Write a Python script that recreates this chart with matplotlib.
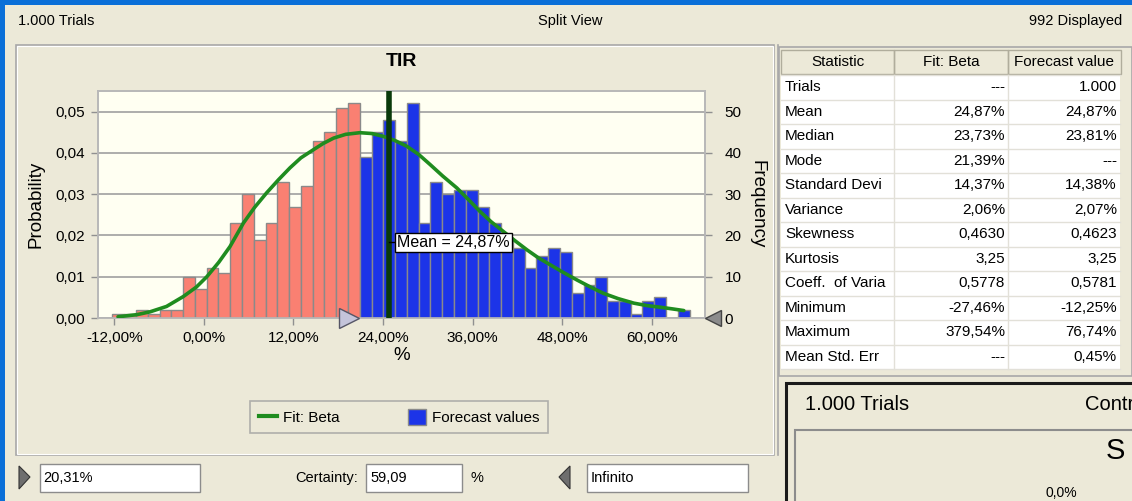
import matplotlib
matplotlib.use('Agg')
import matplotlib.pyplot as plt
import matplotlib.transforms as mtransforms
from matplotlib.patches import Rectangle, Patch, Polygon
from matplotlib.lines import Line2D
from matplotlib.ticker import FuncFormatter
import numpy as np

# ---- data ----
bin_start = -12.25      # %
bin_width = 1.578       # %
counts = [1, 1, 2, 1, 2, 2, 10, 7, 12, 11, 23, 30, 19, 23, 33, 27, 32, 43, 45, 51, 52,
          39, 45, 48, 43, 52, 23, 33, 30, 31, 31, 27, 23, 19, 17, 12, 15, 17, 16, 6, 8,
          10, 4, 4, 1, 4, 5, 0, 2]
split_value = 20.31
mean_value = 24.87

fit_x = [-11.5, -9.0, -7.2, -5.0, -2.75, -1.0, 0.4, 2.0, 3.5, 5.3, 6.8, 8.4, 10.0, 11.55,
         13.0, 14.7, 16.0, 17.4, 19.0, 20.9, 22.5, 24.06, 25.6, 27.2, 28.8, 30.3, 32.0,
         33.9, 35.5, 37.0, 38.5, 40.1, 41.7, 43.3, 44.8, 46.4, 48.2, 50.0, 51.8, 53.5,
         55.5, 57.6, 59.4, 61.2, 62.8, 64.3]
fit_freq = [0.3, 0.8, 1.5, 2.8, 5.2, 7.5, 10.0, 13.5, 17.3, 23.0, 26.8, 30.3, 33.5, 36.4,
            38.8, 40.8, 42.3, 43.6, 44.5, 44.9, 44.7, 44.0, 43.0, 41.6, 39.6, 37.2, 34.4,
            31.5, 28.6, 25.8, 23.3, 21.0, 18.7, 16.5, 14.6, 12.9, 11.0, 9.2, 7.5, 6.0,
            4.7, 3.6, 3.0, 2.6, 2.2, 1.8]

x_ticks = [-12, 0, 12, 24, 36, 48, 60]
prob_ticks = [0.0, 0.01, 0.02, 0.03, 0.04, 0.05]
freq_ticks = [0, 10, 20, 30, 40, 50]

stat_names = ['Trials', 'Mean', 'Median', 'Mode', 'Standard Devi', 'Variance', 'Skewness',
              'Kurtosis', 'Coeff.  of Varia', 'Minimum', 'Maximum', 'Mean Std. Err']
fit_beta = ['---', '24,87%', '23,73%', '21,39%', '14,37%', '2,06%', '0,4630', '3,25',
            '0,5778', '-27,46%', '379,54%', '---']
forecast = ['1.000', '24,87%', '23,81%', '---', '14,38%', '2,07%', '0,4623', '3,25',
            '0,5781', '-12,25%', '76,74%', '0,45%']

W, H = 1132, 501
BG = '#ece9d8'
SALMON = '#fa8072'
BLUE = '#1c34e8'
GREEN = '#1f8c1f'

plt.rcParams['font.family'] = ['Liberation Sans', 'DejaVu Sans']

fig = plt.figure(figsize=(W / 100, H / 100), dpi=100, facecolor=BG)


def fx(x):
    return x / W


def fy(y):
    return 1 - y / H


def box(x0, y0, x1, y1, **kw):
    r = Rectangle((fx(x0), fy(y1)), (x1 - x0) / W, (y1 - y0) / H,
                  transform=fig.transFigure, **kw)
    fig.add_artist(r)


def hline(x0, x1, y, **kw):
    fig.add_artist(Line2D([fx(x0), fx(x1)], [fy(y), fy(y)], transform=fig.transFigure, **kw))


def vline(x, y0, y1, **kw):
    fig.add_artist(Line2D([fx(x), fx(x)], [fy(y0), fy(y1)], transform=fig.transFigure, **kw))


def label(x, y, s, **kw):
    fig.text(fx(x), fy(y), s, **kw)


def tri(pts, **kw):
    fig.add_artist(Polygon([(fx(a), fy(b)) for a, b in pts], closed=True,
                           transform=fig.transFigure, **kw))


# window chrome
box(0, 0, W, 5, facecolor='#0a6fd8', edgecolor='none')
box(0, 0, 5, H, facecolor='#0a6fd8', edgecolor='none')
label(18, 21, '1.000 Trials', fontsize=10.5, va='center', ha='left')
label(570, 21, 'Split View', fontsize=10.5, va='center', ha='center')
label(1122, 21, '992 Displayed', fontsize=10.5, va='center', ha='right')

# chart panel frame
box(16, 45, 774, 455, facecolor='none', edgecolor='#a8a8a8', lw=1.2)
box(17, 46, 773, 454, facecolor='none', edgecolor='white', lw=0.8)
vline(778, 45, 455, color='#a8a8a8', lw=1.2)

# ---- histogram ----
ax = fig.add_axes([fx(98), fy(318), (705 - 98) / W, (318 - 91) / H])
ax.set_facecolor('#fffff2')
ax2 = ax.twinx()
ax2.set_facecolor('none')

lefts = bin_start + bin_width * np.arange(len(counts))
colors = [SALMON if l + bin_width / 2 < split_value else BLUE for l in lefts]
ax2.bar(lefts, counts, width=bin_width, align='edge', color=colors,
        edgecolor='#8a8a8a', linewidth=1.0, zorder=2)
ax2.plot(fit_x, fit_freq, color=GREEN, lw=2.6, zorder=3, solid_capstyle='round')
ax2.axvline(mean_value, color='#0a3a0a', lw=4, zorder=4)

ax2.plot([mean_value, 25.7], [18.3, 18.3], color='black', lw=1, zorder=5)
ax2.text(25.9, 18.3, 'Mean = 24,87%', fontsize=11.5, va='center', ha='left', zorder=6,
         bbox=dict(boxstyle='square,pad=0.15', facecolor='white', edgecolor='black', lw=1))

ax.set_xlim(-14.18, 67.14)
ax.set_ylim(0, 0.055)
ax2.set_ylim(0, 55)

ax2.set_axisbelow(True)
ax2.yaxis.grid(True, color='#a0a0a0', lw=1.2)
ax2.set_yticks(freq_ticks)
ax.set_yticks(prob_ticks)
ax.set_xticks(x_ticks)
ax.yaxis.set_major_formatter(FuncFormatter(lambda v, _: f'{v:.2f}'.replace('.', ',')))
ax.xaxis.set_major_formatter(FuncFormatter(lambda v, _: f'{v:.2f}%'.replace('.', ',')))

for a in (ax, ax2):
    a.tick_params(labelsize=11, color='#909090', length=5, width=1, pad=4)
    for s in a.spines.values():
        s.set_color('#b8b8b8')
        s.set_linewidth(1.2)
ax2.tick_params(axis='y', pad=9)

ax.set_ylabel('Probability', fontsize=13.5, labelpad=8)
ax2.set_ylabel('Frequency', fontsize=13.5, rotation=270, labelpad=17)
ax.set_xlabel('%', fontsize=13.5, labelpad=2)
label(401, 61, 'TIR', fontsize=14, fontweight='bold', ha='center', va='center')

# certainty grabbers on the axis
off_l = mtransforms.offset_copy(ax2.transData, fig=fig, x=-6, y=0, units='dots')
ax2.plot([split_value], [0], marker='>', markersize=14, color='#c4c4da',
         markeredgecolor='#555566', markeredgewidth=1, transform=off_l, clip_on=False, zorder=7)
off_r = mtransforms.offset_copy(ax2.transAxes, fig=fig, x=8, y=0, units='dots')
ax2.plot([1.0], [0.0], marker='<', markersize=12, color='#8c8c8c',
         markeredgecolor='#444444', markeredgewidth=1, transform=off_r, clip_on=False, zorder=7)

# legend
handles = [Line2D([], [], color=GREEN, lw=3),
           Patch(facecolor=BLUE, edgecolor='#8a8a8a')]
leg = fig.legend(handles, ['Fit: Beta', 'Forecast values'], ncol=2, loc='center',
                 bbox_to_anchor=(fx(399), fy(417)), fontsize=11, frameon=True,
                 fancybox=False, facecolor=BG, edgecolor='#a0a0a0',
                 handlelength=1.2, handleheight=1.2, columnspacing=4.5,
                 handletextpad=0.35, borderpad=0.55, borderaxespad=0)
leg.get_frame().set_linewidth(1.2)

# bottom controls
tri([(19, 466), (19, 489), (30, 477)], facecolor='#6e6e6e', edgecolor='#333333', lw=0.8)
box(40, 464, 200, 492, facecolor='white', edgecolor='#8c8c8c', lw=1)
label(43, 478, '20,31%', fontsize=10.5, va='center')
label(358, 478, 'Certainty:', fontsize=10.5, va='center', ha='right')
box(366, 464, 462, 492, facecolor='white', edgecolor='#8c8c8c', lw=1)
label(370, 478, '59,09', fontsize=10.5, va='center')
label(477, 478, '%', fontsize=10.5, va='center', ha='center')
tri([(570, 466), (570, 489), (559, 477)], facecolor='#6e6e6e', edgecolor='#333333', lw=0.8)
box(587, 464, 748, 492, facecolor='white', edgecolor='#8c8c8c', lw=1)
label(591, 478, 'Infinito', fontsize=10.5, va='center')

# ---- statistics table ----
col_x = [781, 894, 1008, 1121]
row_top = 75
row_h = 24.5
box(779, 47, W, 376, facecolor='none', edgecolor='#a8a8a8', lw=1.2)
box(col_x[0], 50, col_x[3], 74, facecolor=BG, edgecolor='none')
for i in range(3):
    box(col_x[i], 50, col_x[i + 1], 74, facecolor='none', edgecolor='#b0ad9c', lw=1)
hdr = ['Statistic', 'Fit: Beta', 'Forecast value']
for i, t in enumerate(hdr):
    label((col_x[i] + col_x[i + 1]) / 2, 62, t, fontsize=11, ha='center', va='center')
table_bottom = row_top + row_h * len(stat_names)
box(col_x[0], row_top, col_x[3] - 1, table_bottom, facecolor='white', edgecolor='none')
for r in range(len(stat_names) + 1):
    hline(col_x[0], col_x[3] - 1, row_top + r * row_h, color='#e2e0d8', lw=1)
for c in col_x[1:3]:
    vline(c, row_top, table_bottom, color='#e2e0d8', lw=1)
for r, (n, a, b) in enumerate(zip(stat_names, fit_beta, forecast)):
    yc = row_top + (r + 0.5) * row_h
    label(col_x[0] + 4, yc, n, fontsize=11, va='center', ha='left')
    label(col_x[2] - 3, yc, a, fontsize=11, va='center', ha='right')
    label(col_x[3] - 4, yc, b, fontsize=11, va='center', ha='right')

# partial second window, bottom right
box(786, 383, W + 5, H + 5, facecolor=BG, edgecolor='#1a1a1a', lw=2.2)
label(805, 405, '1.000 Trials', fontsize=14.5, va='center', ha='left')
label(1085, 405, 'Contr', fontsize=14.5, va='center', ha='left')
box(795, 430, W + 5, H + 5, facecolor=BG, edgecolor='#8c8c8c', lw=1.5)
label(1106, 451, 'S', fontsize=21, va='center', ha='left')
label(1046, 500, '0,0%', fontsize=10, va='bottom', ha='left')

fig.savefig('out.png', dpi=100, facecolor=BG)
